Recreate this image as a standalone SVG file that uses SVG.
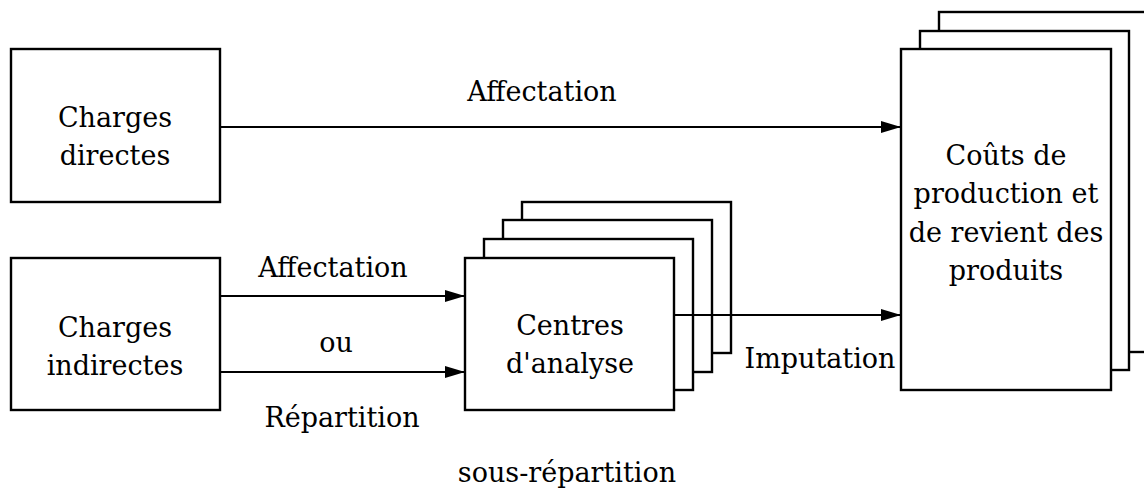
<svg xmlns="http://www.w3.org/2000/svg" width="1144" height="494" viewBox="0 0 1144 494">
<defs>
<style>
.box{fill:#fff;stroke:#000;stroke-width:2.4}
.c{stroke:#000;stroke-width:2;fill:none}
.t{font-family:'DejaVu Serif',serif;font-size:27px;text-anchor:middle;fill:#000}
</style>
<marker id="ah" markerUnits="userSpaceOnUse" markerWidth="20" markerHeight="12" refX="20" refY="6" orient="auto">
<path d="M0,0 L20,6 L0,12 Z" fill="#000"/>
</marker>
</defs>
<rect width="1144" height="494" fill="#fff"/>
<g class="t">
<g id="charges-directes">
<rect class="box" x="11" y="49" width="209" height="153"/>
<text x="115" y="127">Charges</text>
<text x="115" y="165">directes</text>
</g>
<g id="charges-indirectes">
<rect class="box" x="11" y="258" width="209" height="152"/>
<text x="115" y="337">Charges</text>
<text x="115" y="375">indirectes</text>
</g>
<g id="centres-analyse">
<rect class="box" x="522" y="202" width="209" height="151"/>
<rect class="box" x="503" y="220" width="209" height="152"/>
<rect class="box" x="484" y="239" width="209" height="151"/>
<rect class="box" x="465" y="258" width="209" height="152"/>
<text x="570" y="335">Centres</text>
<text x="570" y="373">d'analyse</text>
</g>
<g id="couts">
<rect class="box" x="939" y="12" width="209" height="340"/>
<rect class="box" x="920" y="31" width="209" height="339"/>
<rect class="box" x="901" y="49" width="210" height="341"/>
<text x="1006" y="165">Coûts de</text>
<text x="1006" y="203">production et</text>
<text x="1006" y="242">de revient des</text>
<text x="1006" y="280">produits</text>
</g>
<g id="connectors">
<line class="c" x1="220" y1="127" x2="901" y2="127" marker-end="url(#ah)"/>
<line class="c" x1="220" y1="296" x2="465" y2="296" marker-end="url(#ah)"/>
<line class="c" x1="220" y1="372" x2="465" y2="372" marker-end="url(#ah)"/>
<line class="c" x1="674" y1="315" x2="901" y2="315" marker-end="url(#ah)"/>
</g>
<g id="labels">
<text x="542" y="101">Affectation</text>
<text x="333" y="277">Affectation</text>
<text x="336" y="352">ou</text>
<text x="342" y="427">Répartition</text>
<text x="820" y="368">Imputation</text>
<text x="567" y="482">sous-répartition</text>
</g>
</g>
</svg>
